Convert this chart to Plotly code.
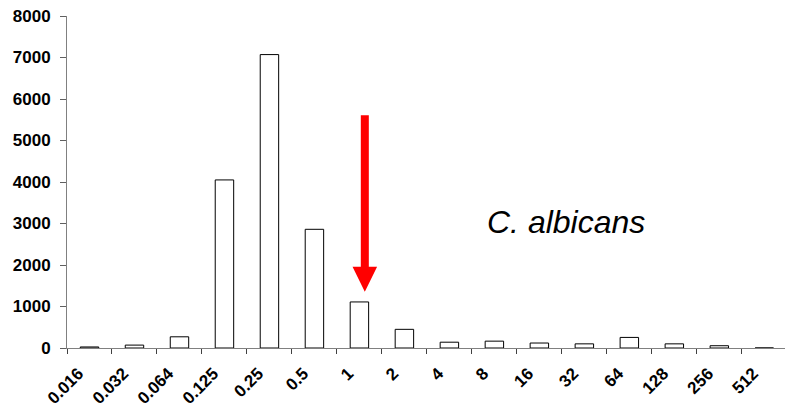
import plotly.graph_objects as go

categories = ["0.016", "0.032", "0.064", "0.125", "0.25", "0.5", "1", "2",
              "4", "8", "16", "32", "64", "128", "256", "512"]
counts = [25, 70, 270, 4050, 7070, 2860, 1110, 450,
          140, 165, 120, 100, 255, 100, 55, 0]
y_tick_vals = [0, 1000, 2000, 3000, 4000, 5000, 6000, 7000, 8000]
label_text = "C. albicans"
arrow_category = "1"

fig = go.Figure()
fig.add_trace(go.Bar(
    x=categories, y=counts,
    width=0.41,
    marker=dict(color="white", line=dict(color="black", width=1)),
))

# red arrow pointing at the "1" category
ai = categories.index(arrow_category) + 0.12
shaft_top, head_base, tip = 5610, 1960, 1357
sw, hw = 0.089, 0.273
path = (f"M {ai-sw},{shaft_top} L {ai+sw},{shaft_top} L {ai+sw},{head_base} "
        f"L {ai+hw},{head_base} L {ai},{tip} L {ai-hw},{head_base} "
        f"L {ai-sw},{head_base} Z")
fig.add_shape(type="path", path=path, xref="x", yref="y",
              fillcolor="#ff0000", line=dict(width=0))

fig.add_annotation(x=10.59, y=3036, xref="x", yref="y", text=label_text,
                   showarrow=False,
                   font=dict(family="Liberation Sans", size=32, color="black",
                             style="italic"))

axis_font = dict(family="Liberation Sans", size=17, color="black", weight="bold")
fig.update_layout(
    width=785, height=414,
    margin=dict(l=67, r=0, t=16, b=66),
    plot_bgcolor="white", paper_bgcolor="white",
    showlegend=False,
    xaxis=dict(
        type="category", categoryorder="array", categoryarray=categories,
        tickson="boundaries",
        range=[-0.5, 15.46], showline=True, linecolor="#808080", linewidth=1,
        ticks="outside", ticklen=5, tickcolor="#404040", tickwidth=1,
        showgrid=False, zeroline=False, tickangle=-45, tickfont=axis_font,
        automargin=False, ticklabelstandoff=8, ticklabelshift=-11,
    ),
    yaxis=dict(
        range=[0, 8000], tickvals=y_tick_vals, ticktext=[str(v) for v in y_tick_vals],
        showline=True, linecolor="#808080", linewidth=1,
        ticks="outside", ticklen=6, tickcolor="#606060", tickwidth=1,
        showgrid=False, zeroline=False, tickfont=axis_font,
        ticklabelstandoff=6, automargin=False,
    ),
)

fig.write_html("out.html", config={"displayModeBar": False},
               post_script="document.body.style.margin='0';document.body.style.overflow='hidden';")
